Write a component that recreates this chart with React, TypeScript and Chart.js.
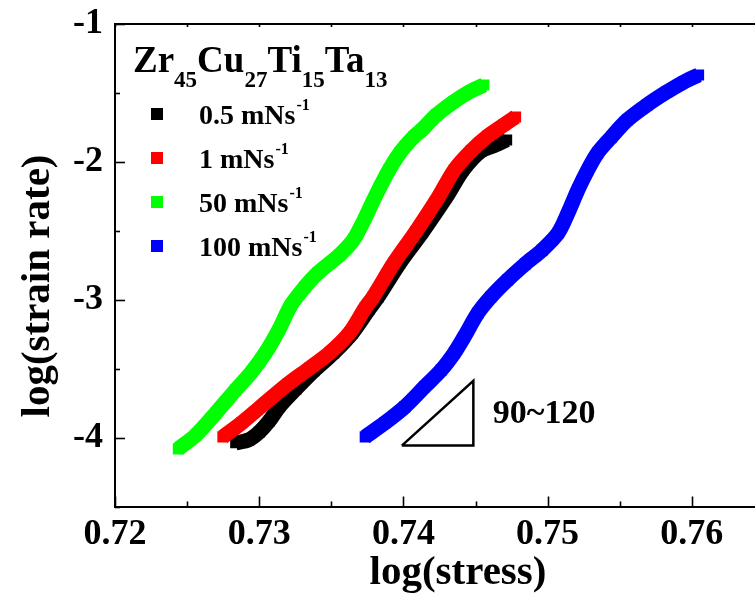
import React, { useEffect, useRef } from 'react';
import { Chart, registerables } from 'chart.js';
Chart.register(...registerables);

const FONT = "'Liberation Serif', 'Times New Roman', serif";
Chart.defaults.font.family = FONT;

// log(stress) / log(strain rate) readings per loading rate
const stressBlack = [0.72837, 0.72926, 0.73001, 0.73070, 0.73139, 0.73255, 0.73379, 0.73516, 0.73646, 0.73763, 0.73824, 0.73975, 0.74133, 0.74298, 0.74414, 0.74538, 0.74641, 0.74716];
const rateBlack = [-4.038, -4.017, -3.959, -3.879, -3.777, -3.647, -3.516, -3.386, -3.241, -3.067, -2.980, -2.733, -2.508, -2.255, -2.059, -1.921, -1.877, -1.841];

const stressRed = [0.72748, 0.72878, 0.73043, 0.73200, 0.73351, 0.73488, 0.73626, 0.73735, 0.73790, 0.73934, 0.74085, 0.74243, 0.74353, 0.74469, 0.74586, 0.74696, 0.74778];
const rateRed = [-3.995, -3.893, -3.748, -3.611, -3.495, -3.386, -3.241, -3.059, -2.980, -2.733, -2.508, -2.255, -2.059, -1.921, -1.812, -1.732, -1.674];

const stressGreen = [0.72439, 0.72562, 0.72700, 0.72837, 0.72947, 0.73043, 0.73132, 0.73221, 0.73317, 0.73406, 0.73557, 0.73653, 0.73728, 0.73783, 0.73838, 0.73900, 0.73975, 0.74071, 0.74126, 0.74229, 0.74346, 0.74455, 0.74558];
const rateGreen = [-4.082, -3.980, -3.821, -3.654, -3.524, -3.386, -3.226, -3.038, -2.907, -2.806, -2.675, -2.566, -2.421, -2.298, -2.182, -2.059, -1.935, -1.819, -1.769, -1.660, -1.566, -1.493, -1.442];

const stressBlue = [0.73735, 0.73872, 0.74010, 0.74147, 0.74263, 0.74353, 0.74421, 0.74517, 0.74606, 0.74723, 0.74846, 0.74963, 0.75073, 0.75141, 0.75210, 0.75278, 0.75347, 0.75443, 0.75553, 0.75690, 0.75827, 0.75944, 0.76047];
const rateBlue = [-3.995, -3.893, -3.777, -3.632, -3.509, -3.386, -3.270, -3.096, -2.980, -2.856, -2.740, -2.639, -2.516, -2.371, -2.204, -2.059, -1.935, -1.819, -1.696, -1.587, -1.493, -1.421, -1.370];

// slope guide triangle
const triangleX = [0.73989, 0.74485, 0.74485, 0.73989];
const triangleY = [-4.058, -4.058, -3.589, -4.058];
const slopeLabel = '90~120';
const slopeLabelPos = [0.7462, -3.893];

const seriesNames = ['0.5 mNs', '1 mNs', '50 mNs', '100 mNs'];
const unitSup = '-1';
const seriesColors = ['#000000', '#ff0000', '#00ff00', '#0000ff'];
const titleParts: [string, string][] = [['Zr', '45'], ['Cu', '27'], ['Ti', '15'], ['Ta', '13']];

const xTitle = 'log(stress)';
const yTitle = 'log(strain rate)';
const xMin = 0.72, xMax = 0.7671, xStep = 0.005;
const yMin = -4.5, yMax = -1, yStep = 0.5;

const isMajorX = (v: number) => Math.abs(v * 100 - Math.round(v * 100)) < 1e-6;
const isMajorY = (v: number) => Math.abs(v - Math.round(v)) < 1e-6;

const zip = (xs: number[], ys: number[]) => xs.map((x, i) => ({ x, y: ys[i] }));

const decor = {
  id: 'decor',
  afterDraw(chart: any) {
    const { ctx, chartArea, scales } = chart;
    const xs = scales.x, ys = scales.y;
    ctx.save();
    ctx.strokeStyle = '#000';
    ctx.lineWidth = 2;
    ctx.beginPath();
    ctx.moveTo(chartArea.left - 1, chartArea.top);
    ctx.lineTo(chartArea.right, chartArea.top);
    ctx.stroke();
    ctx.lineWidth = 1.6;
    xs.ticks.forEach((t: any) => {
      const p = Math.round(xs.getPixelForValue(t.value)) + 0.5;
      const L = isMajorX(t.value) ? 10 : 5;
      ctx.beginPath();
      ctx.moveTo(p, chartArea.bottom);
      ctx.lineTo(p, chartArea.bottom - L);
      ctx.moveTo(p, chartArea.top);
      ctx.lineTo(p, chartArea.top + 3);
      ctx.stroke();
    });
    ys.ticks.forEach((t: any) => {
      const p = Math.round(ys.getPixelForValue(t.value)) + 0.5;
      const L = isMajorY(t.value) ? 10 : 5;
      ctx.beginPath();
      ctx.moveTo(chartArea.left, p);
      ctx.lineTo(chartArea.left + L, p);
      ctx.stroke();
    });

    ctx.fillStyle = '#000';
    // axis titles
    ctx.font = `bold 41px ${FONT}`;
    ctx.textAlign = 'center';
    ctx.textBaseline = 'alphabetic';
    ctx.fillText(xTitle, 458, 584);
    ctx.save();
    ctx.translate(49, 286);
    ctx.rotate(-Math.PI / 2);
    ctx.fillText(yTitle, 0, 0);
    ctx.restore();

    // legend title with subscripts
    ctx.textAlign = 'left';
    let tx = chartArea.left + 18;
    const tBase = chartArea.top + 48;
    titleParts.forEach(([main, sub]) => {
      ctx.font = `bold 37px ${FONT}`;
      ctx.fillText(main, tx, tBase);
      tx += ctx.measureText(main).width;
      ctx.font = `bold 23px ${FONT}`;
      ctx.fillText(sub, tx, tBase + 15);
      tx += ctx.measureText(sub).width;
    });

    // legend entries
    seriesNames.forEach((name, i) => {
      const cy = chartArea.top + 90 + i * 44;
      ctx.fillStyle = seriesColors[i];
      ctx.fillRect(chartArea.left + 36, cy - 6, 12, 12);
      ctx.fillStyle = '#000';
      ctx.font = `bold 28px ${FONT}`;
      const x0 = chartArea.left + 84;
      ctx.fillText(name, x0, cy + 9.5);
      const w = ctx.measureText(name).width;
      ctx.font = `bold 16px ${FONT}`;
      ctx.fillText(unitSup, x0 + w + 1, cy - 4.5);
    });

    // slope label
    ctx.font = `bold 34px ${FONT}`;
    ctx.fillText(slopeLabel, xs.getPixelForValue(slopeLabelPos[0]), ys.getPixelForValue(slopeLabelPos[1]));
    ctx.restore();
  },
};

const curve = (label: string, xs: number[], ys: number[], color: string, order: number) => ({
  label,
  data: zip(xs, ys),
  borderColor: color,
  backgroundColor: color,
  borderWidth: 15,
  borderCapStyle: 'butt',
  borderJoinStyle: 'round',
  tension: 0.3,
  pointStyle: 'rect',
  pointRadius: 7.8,
  pointBorderWidth: 0,
  pointBackgroundColor: color,
  fill: false,
  order,
});

export default function App() {
  const ref = useRef<HTMLCanvasElement | null>(null);
  useEffect(() => {
    if (!ref.current) return;
    const tickFont = { family: FONT, size: 36, weight: 'bold' };
    const chart = new Chart(ref.current, {
      type: 'line',
      data: {
        datasets: [
          curve(seriesNames[0] + '⁻¹', stressBlack, rateBlack, seriesColors[0], 2),
          curve(seriesNames[1] + '⁻¹', stressRed, rateRed, seriesColors[1], 1),
          curve(seriesNames[2] + '⁻¹', stressGreen, rateGreen, seriesColors[2], 1),
          curve(seriesNames[3] + '⁻¹', stressBlue, rateBlue, seriesColors[3], 1),
          {
            label: 'slope',
            data: zip(triangleX, triangleY),
            borderColor: '#000',
            borderWidth: 2.5,
            borderJoinStyle: 'miter',
            pointRadius: 0,
            tension: 0,
            fill: false,
            order: 0,
          } as any,
        ] as any,
      },
      options: {
        responsive: false,
        animation: false,
        devicePixelRatio: 1,
        font: { family: FONT },
        layout: { padding: { top: 24, left: 0, right: 0, bottom: 0 } },
        plugins: { legend: { display: false }, tooltip: { enabled: false }, title: { display: false } },
        scales: {
          x: {
            type: 'linear',
            min: xMin,
            max: xMax,
            afterFit: (s: any) => { s.height = 95.5; s.paddingLeft = 0; s.paddingRight = 0; },
            grid: { display: false, drawTicks: false },
            border: { display: true, color: '#000', width: 2 },
            ticks: {
              stepSize: xStep,
              includeBounds: false,
              autoSkip: false,
              maxRotation: 0,
              padding: 7,
              color: '#000',
              font: tickFont,
              callback: (v: any) => (isMajorX(Number(v)) ? Number(v).toFixed(2) : ''),
            },
          },
          y: {
            type: 'linear',
            min: yMin,
            max: yMax,
            afterFit: (s: any) => { s.width = 115; s.paddingTop = 0; s.paddingBottom = 0; },
            grid: { display: false, drawTicks: false },
            border: { display: true, color: '#000', width: 2 },
            ticks: {
              stepSize: yStep,
              includeBounds: false,
              autoSkip: false,
              padding: 12,
              color: '#000',
              font: tickFont,
              callback: (v: any) => (isMajorY(Number(v)) ? String(Math.round(Number(v))) : ''),
            },
          },
        },
      } as any,
      plugins: [decor],
    });
    return () => chart.destroy();
  }, []);
  return (
    <div style={{ position: 'fixed', left: 0, top: 0, width: 755, height: 602, overflow: 'hidden', background: '#fff' }}>
      <canvas ref={ref} width={802} height={602} style={{ display: 'block', width: 802, height: 602 }} />
    </div>
  );
}
